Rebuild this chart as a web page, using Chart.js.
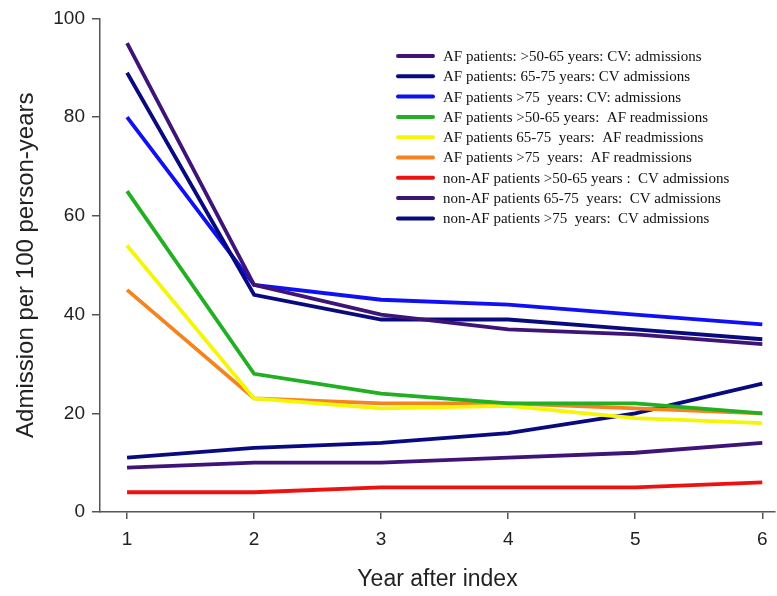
<!DOCTYPE html>
<html>
<head>
<meta charset="utf-8">
<script src="https://cdn.jsdelivr.net/npm/chart.js@4"></script>
<style>
  html, body { margin: 0; padding: 0; background: #fff; }
  #wrap { width: 777px; height: 596px; }
</style>
</head>
<body>
<div id="wrap"><canvas id="myChart" width="777" height="596"></canvas></div>
<script>
// data
var years = [1, 2, 3, 4, 5, 6];
var seriesNames = [
	"AF patients: >50-65 years: CV: admissions",
	"AF patients: 65-75 years: CV admissions",
	"AF patients >75  years: CV: admissions",
	"AF patients >50-65 years:  AF readmissions",
	"AF patients 65-75  years:  AF readmissions",
	"AF patients >75  years:  AF readmissions",
	"non-AF patients >50-65 years :  CV admissions",
	"non-AF patients 65-75  years:  CV admissions",
	"non-AF patients >75  years:  CV admissions"
];
var afYoungCV = [95, 46, 40, 37, 36, 34];
var afMidCV = [89, 44, 39, 39, 37, 35];
var afOldCV = [80, 46, 43, 42, 40, 38];
var afYoungRe = [65, 28, 24, 22, 22, 20];
var afMidRe = [54, 23, 21, 21.5, 19, 18];
var afOldRe = [45, 23, 22, 22, 21, 20];
var nonYoungCV = [4, 4, 5, 5, 5, 6];
var nonMidCV = [9, 10, 10, 11, 12, 14];
var nonOldCV = [11, 13, 14, 16, 20, 26];
var yTicks = [0, 20, 40, 60, 80, 100];

var allValues = [afYoungCV, afMidCV, afOldCV, afYoungRe, afMidRe, afOldRe, nonYoungCV, nonMidCV, nonOldCV];
var colors = ['#3f1478', '#0a0a80', '#1010f5', '#22b022', '#f5f50a', '#f5841e', '#ee1111', '#3f1478', '#0a0a80'];

function toPoints(vals) {
	return years.map(function (x, i) { return { x: x, y: vals[i] }; });
}

var datasets = allValues.map(function (vals, i) {
	return {
		label: seriesNames[i],
		data: toPoints(vals),
		borderColor: colors[i],
		backgroundColor: colors[i],
		borderWidth: 3.8,
		pointRadius: 0,
		tension: 0,
		fill: false
	};
});

// legend drawn inside the plot, like the original
var innerLegend = {
	id: 'innerLegend',
	afterDraw: function (chart) {
		var ctx = chart.ctx;
		ctx.save();
		ctx.font = '15px "Liberation Serif", "Times New Roman", serif';
		ctx.textBaseline = 'middle';
		ctx.fillStyle = '#111';
		chart.data.datasets.forEach(function (ds, i) {
			var y = 56 + i * 20.3;
			ctx.strokeStyle = ds.borderColor;
			ctx.lineWidth = 4;
			ctx.lineCap = 'round';
			ctx.beginPath();
			ctx.moveTo(398, y);
			ctx.lineTo(433, y);
			ctx.stroke();
			ctx.fillText(ds.label, 443, y + 1);
		});
		ctx.restore();
	}
};

var chartId = document.getElementById("myChart");
var chart = new Chart(chartId, {
	type: 'line',
	data: { datasets: datasets },
	options: {
		responsive: false,
		animation: false,
		layout: { padding: { top: 18, right: 2, left: 0, bottom: 0 } },
		plugins: { legend: { display: false }, tooltip: { enabled: false } },
		scales: {
			x: {
				type: 'linear',
				min: 0.787,
				max: 6.1,
				afterBuildTicks: function (axis) {
					axis.ticks = years.map(function (v) { return { value: v }; });
				},
				afterFit: function (axis) { axis.height = 84; },
				border: { display: true, color: '#555', width: 1.5 },
				grid: { drawOnChartArea: false, drawTicks: true, tickLength: 7, color: '#555', lineWidth: 1.5 },
				ticks: { color: '#222', font: { family: 'Liberation Sans, Arial', size: 19 }, padding: 9 },
				title: { display: true, text: 'Year after index', color: '#222', font: { family: 'Liberation Sans, Arial', size: 23 }, padding: { top: 0, bottom: 3 } }
			},
			y: {
				min: 0,
				max: 100,
				afterBuildTicks: function (axis) {
					axis.ticks = yTicks.map(function (v) { return { value: v }; });
				},
				afterFit: function (axis) { axis.width = 100; },
				border: { display: true, color: '#555', width: 1.5 },
				grid: { drawOnChartArea: false, drawTicks: true, tickLength: 8, color: '#555', lineWidth: 1.5 },
				ticks: { color: '#222', font: { family: 'Liberation Sans, Arial', size: 19 }, padding: 7 },
				title: { display: true, text: 'Admission per 100 person-years', color: '#222', font: { family: 'Liberation Sans, Arial', size: 24 }, padding: { top: 12, bottom: 0 } }
			}
		}
	},
	plugins: [innerLegend]
});
</script>
</body>
</html>
